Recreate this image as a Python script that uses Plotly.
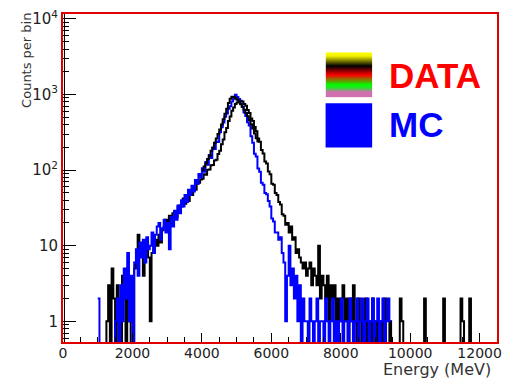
import numpy as np
import plotly.graph_objects as go

BIN = 50  # MeV per bin

# ---------------- data (counts per bin) ----------------
mc_start = 1000
mc_counts = [
    2, 0, 0, 0, 0, 0, 0, 0, 0, 0,
    1, 2, 0, 3, 1, 5, 2, 8, 1, 4,
    0, 6, 9, 4, 11, 7, 12, 6, 13, 9,
    10, 15, 8, 14, 18, 20, 12, 17, 22, 15,
    20, 9, 24, 18, 29, 22, 34, 27, 40, 33,
    47, 38, 55, 47, 62, 52, 74, 66, 89, 80,
    106, 95, 128, 118, 158, 145, 196, 190, 240, 236,
    318, 370, 425, 510, 560, 650, 700, 810, 880, 990,
    930, 870, 760, 690, 580, 520, 430, 390, 280, 230,
    165, 152, 105, 95, 68, 64, 50, 48, 39, 33,
    23, 21, 15, 15, 12, 13, 8, 6, 1, 4,
    10, 3, 5, 2, 4, 1, 3, 0, 2, 1,
    1, 0, 2, 1, 0, 1, 2, 0, 1, 1,
    0, 2, 1, 0, 1, 2, 0, 1, 0, 1,
    2, 0, 1, 1, 0, 2, 1, 0, 1, 2,
    0, 1, 2, 0, 1, 2, 0, 1, 2, 0,
    1, 2, 0, 1, 2, 0, 1, 2, 1,
]

data_start = 1000
data_counts = [
    0, 0, 0, 0, 0, 1, 3, 0, 5, 2,
    0, 3, 1, 0, 4, 2, 0, 3, 1, 0,
    0, 5, 6, 14, 8, 10, 4, 9, 11, 7,
    1, 8, 10, 12, 10, 14, 11, 16, 18, 22,
    18, 25, 19, 27, 28, 24, 33, 34, 33, 42,
    36, 44, 39, 50, 47, 57, 55, 66, 68, 75,
    77, 88, 87, 101, 102, 116, 117, 134, 137, 163,
    180, 220, 255, 318, 362, 448, 512, 610, 672, 748,
    785, 818, 826, 806, 752, 708, 622, 568, 482, 448,
    372, 328, 262, 238, 184, 166, 130, 122, 96, 88,
    66, 64, 50, 47, 38, 35, 26, 25, 19, 20,
    15, 18, 12, 13, 8, 9, 7, 6, 5, 6,
    4, 5, 6, 3, 5, 4, 3, 10, 2, 4,
    3, 2, 4, 1, 3, 2, 3, 0, 2, 1,
    2, 3, 1, 2, 0, 2, 1, 3, 1, 0,
    2, 1, 0, 1, 2, 0, 1, 0, 2, 0,
    1, 0, 0, 1, 0, 2, 0, 0, 1, 0,
    0, 0, 0, 0, 2, 1, 0, 0, 0, 0,
    0, 0, 0, 0, 0, 0, 0, 0, 2, 0,
    0, 0, 0, 0, 0, 0, 0, 0, 0, 2,
    0, 0, 0, 0, 0, 0, 0, 0, 0, 2,
    1, 0, 0, 0, 2, 0,
]

data2_start = 4000
data2_counts = [
    100, 112, 122, 140, 155, 180, 200, 230, 262, 300,
    345, 400, 470, 555, 650, 770, 880, 935, 925, 895,
    850, 800, 745, 690, 630, 570, 515, 460, 405, 355,
    305, 265, 240,
]

x_tick_vals = [0, 2000, 4000, 6000, 8000, 10000, 12000]
x_tick_text = ["0", "2000", "4000", "6000", "8000", "10000", "12000"]
y_tick_vals = [1, 10, 100, 1000, 10000]
y_tick_text = ["1", "10", "10<sup>2</sup>", "10<sup>3</sup>", "10<sup>4</sup>"]
legend_labels = ["DATA", "MC"]
x_title = "Energy (MeV)"
y_title = "Counts per bin"

# ---------------- geometry / style ----------------
W, H = 510, 381
ML, MR, MT, MB = 63, 9, 8, 39
Y_LOG_RANGE = [-0.273, 4.065]
X_RANGE = [0, 12500]
FLOOR = 10 ** (Y_LOG_RANGE[0] - 0.05)


def step(start, counts):
    c = np.asarray(counts, dtype=float)
    edges = start + BIN * np.arange(len(c) + 1)
    y = np.append(c, c[-1])
    y = np.where(y > 0, y, FLOOR)
    return edges, y


fig = go.Figure()
for start, counts, color in [(data_start, data_counts, "black"),
                             (mc_start, mc_counts, "#0000ff"),
                             (data2_start, data2_counts, "black")]:
    x, y = step(start, counts)
    fig.add_trace(go.Scatter(x=x, y=y, mode="lines", line_shape="hv",
                             line=dict(color=color, width=2),
                             showlegend=False, hoverinfo="skip"))

# gradient legend swatch (DATA) drawn as a heatmap on its own small axes
grad_colors = [[0.0, "#ffff00"], [0.08, "#f0f000"], [0.3, "#000000"],
               [0.5, "#ff0000"], [0.72, "#00ff00"], [0.82, "#40d040"],
               [0.9, "#d070b0"], [1.0, "#d070b0"]]
nrow = 46
fig.add_trace(go.Heatmap(z=[[i / (nrow - 1)] for i in range(nrow)],
                         colorscale=grad_colors, showscale=False,
                         xaxis="x2", yaxis="y2", hoverinfo="skip"))

pw = W - ML - MR
ph = H - MT - MB


def px(xp):
    return (xp - ML) / pw


def py(yp):
    return (H - MB - yp) / ph


FONT = "DejaVu Sans, Verdana, sans-serif"
tick_font = dict(family=FONT, size=14, color="#222")

fig.update_layout(
    width=W, height=H,
    margin=dict(l=ML, r=MR, t=MT, b=MB),
    paper_bgcolor="white", plot_bgcolor="white",
    showlegend=False,
    xaxis=dict(range=X_RANGE, tickmode="array", tickvals=x_tick_vals, ticktext=x_tick_text,
               ticks="inside", ticklen=9, tickwidth=1, tickcolor="black",
               minor=dict(dtick=500, ticks="inside", ticklen=5, tickcolor="black", showgrid=False),
               showgrid=False, zeroline=False,
               showline=True, linecolor="#e00000", linewidth=2, mirror=True,
               tickfont=tick_font, ticklabelstandoff=-3),
    yaxis=dict(type="log", range=Y_LOG_RANGE, tickmode="array", tickvals=y_tick_vals,
               ticktext=y_tick_text, ticks="inside", ticklen=13, tickwidth=1, tickcolor="black",
               minor=dict(tickmode="array",
                          tickvals=[m * 10 ** d for d in range(-1, 5) for m in range(2, 10)],
                          ticks="inside", ticklen=6, tickcolor="black", showgrid=False),
               showgrid=False, zeroline=False,
               showline=True, linecolor="#e00000", linewidth=2, mirror=True,
               tickfont=dict(family=FONT, size=15, color="#222")),
    xaxis2=dict(domain=[px(328), px(375)], anchor="y2", visible=False, fixedrange=True),
    yaxis2=dict(domain=[py(93), py(47)], anchor="x2", visible=False, autorange="reversed",
                fixedrange=True),
)

# MC swatch
fig.add_shape(type="rect", xref="paper", yref="paper",
              x0=px(328), x1=px(375), y0=py(144), y1=py(99),
              fillcolor="#0000ff", line=dict(width=0), layer="above")

# thin black axis line just inside the red frame on the left (ROOT style)
fig.add_shape(type="line", xref="paper", yref="paper", x0=px(64.5), x1=px(64.5),
              y0=0, y1=1, line=dict(color="black", width=1), layer="above")

label_font = dict(family="Liberation Sans, Arial, sans-serif", size=35)
fig.add_annotation(text="<b>%s</b>" % legend_labels[0], xref="paper", yref="paper",
                   x=px(390), y=py(71), xanchor="left", yanchor="middle",
                   showarrow=False, font=dict(color="#ff0000", **label_font))
fig.add_annotation(text="<b>%s</b>" % legend_labels[1], xref="paper", yref="paper",
                   x=px(390), y=py(121), xanchor="left", yanchor="middle",
                   showarrow=False, font=dict(color="#0000ff", **label_font))

# axis titles
fig.add_annotation(text=x_title, xref="paper", yref="paper",
                   x=px(497), y=py(370), xanchor="right", yanchor="middle",
                   showarrow=False,
                   font=dict(family=FONT, size=16, color="#333"))
fig.add_annotation(text=y_title, xref="paper", yref="paper",
                   x=px(26), y=py(5), xanchor="center", yanchor="top", textangle=-90,
                   showarrow=False,
                   font=dict(family=FONT, size=13, color="#333"))

fig.write_html("out.html")
